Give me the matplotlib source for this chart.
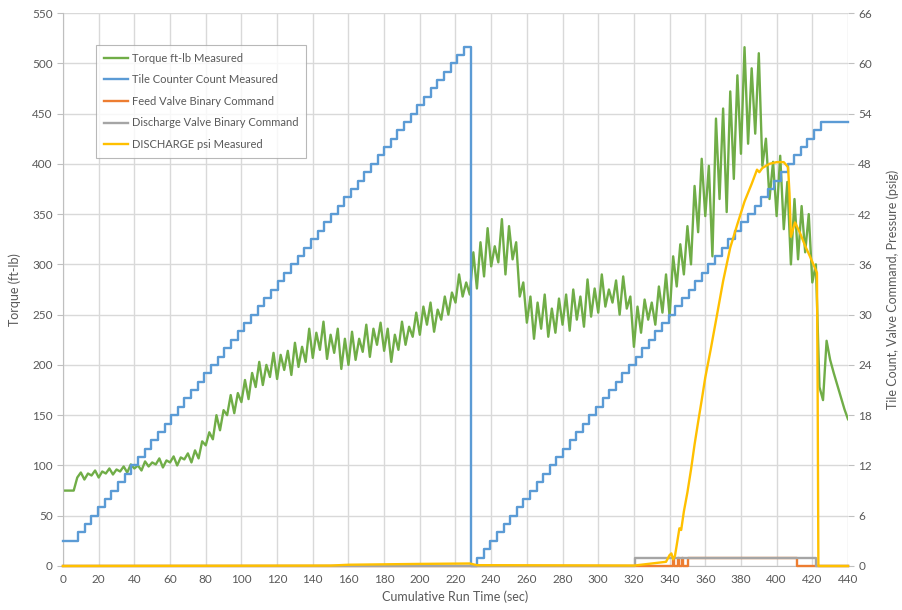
import numpy as np
import matplotlib
matplotlib.use("Agg")
import matplotlib.pyplot as plt

plt.rcParams['font.family'] = ['Lato', 'DejaVu Sans']

# ---------------- data ----------------
torque_time = np.arange(0, 442, 2)
torque_ftlb = [
    75, 75, 75, 75, 88, 93, 86, 92, 90, 95,          # 0-18
    88, 94, 92, 97, 91, 96, 94, 99, 93, 101,         # 20-38
    97, 100, 95, 104, 99, 103, 101, 107, 98, 105,    # 40-58
    103, 109, 100, 108, 106, 112, 103, 115, 107, 124,  # 60-78
    120, 133, 126, 150, 135, 155, 150, 170, 152, 172,  # 80-98
    163, 185, 166, 192, 178, 203, 180, 200, 188, 212,  # 100-118
    186, 210, 195, 214, 190, 222, 198, 218, 203, 236,  # 120-138
    207, 232, 215, 243, 206, 230, 212, 236, 196, 226,  # 140-158
    200, 233, 205, 226, 213, 240, 208, 236, 220, 242,  # 160-178
    214, 236, 203, 230, 215, 243, 220, 238, 228, 252,  # 180-198
    230, 258, 240, 262, 233, 255, 245, 268, 250, 272,  # 200-218
    262, 290, 268, 282, 270, 312, 276, 322, 288, 336,  # 220-238
    298, 318, 302, 345, 290, 338, 305, 322, 268, 282,  # 240-258
    242, 268, 226, 262, 236, 270, 228, 256, 232, 266,  # 260-278
    240, 270, 234, 275, 245, 268, 238, 285, 248, 276,  # 280-298
    252, 290, 258, 275, 262, 284, 250, 288, 256, 268,  # 300-318
    218, 258, 232, 265, 245, 262, 240, 278, 252, 290,  # 320-338
    248, 308, 278, 320, 290, 338, 300, 378, 332, 405,  # 340-358
    348, 398, 308, 445, 365, 455, 352, 472, 385, 488,  # 360-378
    410, 516, 420, 495, 430, 510, 398, 425, 365, 402,  # 380-398
    348, 408, 335, 382, 300, 365, 305, 358, 312, 350,  # 400-418
    282, 300, 178, 165, 224, 205, 192, 180, 168, 156,  # 420-438
    146,                                               # 440
]

tile_time = [
    0, 8.4, 12.1, 15.9, 19.6, 23.3, 27.1, 30.8, 34.5, 38.2, 42.0,
    45.7, 49.4, 53.2, 56.9, 60.6, 64.4, 68.1, 71.8, 75.5, 79.3,
    83.0, 86.7, 90.5, 94.2, 97.9, 101.7, 105.4, 109.1, 112.8, 116.6,
    120.3, 124.0, 127.8, 131.5, 135.2, 139.0, 142.7, 146.4, 150.1, 153.9,
    157.6, 161.3, 165.1, 168.8, 172.5, 176.3, 180.0, 183.7, 187.4, 191.2,
    194.9, 198.6, 202.4, 206.1, 209.8, 213.6, 217.3, 221.0, 224.7,
    228.7,
    232.2, 235.9, 239.6, 243.3, 247.0, 250.7, 254.4, 258.1, 261.8, 265.5,
    269.2, 272.9, 276.6, 280.3, 284.0, 287.7, 291.4, 295.1, 298.8, 302.5,
    306.2, 309.9, 313.6, 317.3, 321.0, 324.7, 328.4, 332.1, 335.8, 339.5,
    343.2, 346.9, 350.6, 354.3, 358.0, 361.7, 365.4, 369.1, 372.8, 376.5,
    380.2, 383.9, 387.6, 391.3, 395.0, 398.7, 402.4, 406.1, 409.8, 413.5,
    417.2, 420.9, 424.6,
    440,
]
tile_count = [
    3, 4, 5, 6, 7, 8, 9, 10, 11, 12, 13,
    14, 15, 16, 17, 18, 19, 20, 21, 22, 23,
    24, 25, 26, 27, 28, 29, 30, 31, 32, 33,
    34, 35, 36, 37, 38, 39, 40, 41, 42, 43,
    44, 45, 46, 47, 48, 49, 50, 51, 52, 53,
    54, 55, 56, 57, 58, 59, 60, 61, 62,
    0,
    1, 2, 3, 4, 5, 6, 7, 8, 9, 10,
    11, 12, 13, 14, 15, 16, 17, 18, 19, 20,
    21, 22, 23, 24, 25, 26, 27, 28, 29, 30,
    31, 32, 33, 34, 35, 36, 37, 38, 39, 40,
    41, 42, 43, 44, 45, 46, 47, 48, 49, 50,
    51, 52, 53,
    53,
]

feed_time = [0, 341.9, 342.6, 344.8, 345.4, 346.7, 347.4, 350.1, 411.3, 440]
feed_cmd = [0, 1, 0, 1, 0, 1, 0, 1, 0, 0]

disch_valve_time = [0, 320.8, 422.1, 440]
disch_valve_cmd = [0, 1, 0, 0]

psi_time = [0, 150, 160, 200, 228, 232, 320, 330, 338, 340, 341, 342, 343, 344,
            345.5, 346.5, 348, 350, 352, 354, 356, 358, 360, 363, 366, 370, 374,
            378, 382, 386, 389, 390.3, 392, 396, 400, 404, 406.4, 407.2, 408,
            410.3, 413, 416, 419, 422.6, 423.0, 423.4, 440]
psi_value = [0, 0.05, 0.15, 0.25, 0.3, 0.1, 0.05, 0.3, 0.5, 1.3, 1.5, 0.8, 1.2, 2.5,
             4.5, 4.3, 6.5, 8.8, 11.5, 14.5, 17.2, 19.8, 22.5, 25.8, 29.3, 34.0, 38.0,
             40.8, 43.5, 45.6, 47.3, 47.0, 47.5, 48.0, 48.2, 48.2, 47.6, 44.5, 39.3,
             41.0, 39.8, 38.2, 36.8, 35.0, 20.0, 0.0, 0.0]

# ---------------- style ----------------
C_GREEN = '#70AD47'
C_BLUE = '#5B9BD5'
C_ORANGE = '#ED7D31'
C_GRAY = '#A5A5A5'
C_YELLOW = '#FFC000'
C_TEXT = '#595959'
C_GRID = '#D9D9D9'
LW = 1.7

fig = plt.figure(figsize=(9.03, 6.10), dpi=100)
ax = fig.add_axes([63 / 903, 1 - 566 / 610, 785 / 903, 553 / 610])
ax2 = ax.twinx()

l1, = ax.plot(torque_time, torque_ftlb, color=C_GREEN, lw=LW, label='Torque ft-lb Measured')
l2, = ax2.plot(tile_time, tile_count, color=C_BLUE, lw=LW, drawstyle='steps-post',
               label='Tile Counter Count Measured', clip_on=False)
l3, = ax2.plot(feed_time, feed_cmd, color=C_ORANGE, lw=LW, drawstyle='steps-post',
               label='Feed Valve Binary Command', clip_on=False)
l4, = ax2.plot(disch_valve_time, disch_valve_cmd, color=C_GRAY, lw=LW, drawstyle='steps-post',
               label='Discharge Valve Binary Command', clip_on=False)
l5, = ax2.plot(psi_time, psi_value, color=C_YELLOW, lw=LW, label='DISCHARGE psi Measured',
               clip_on=False)

ax.set_xlim(0, 440)
ax.set_ylim(0, 550)
ax2.set_ylim(0, 66)
ax.set_xticks(np.arange(0, 441, 20))
ax.set_yticks(np.arange(0, 551, 50))
ax2.set_yticks(np.arange(0, 67, 6))

ax.grid(True, color=C_GRID, lw=1.0)
ax.set_axisbelow(True)

ax.spines['top'].set_visible(False)
ax2.spines['top'].set_visible(False)
ax.spines['right'].set_visible(False)
ax2.spines['right'].set_visible(False)
ax2.spines['left'].set_visible(False)
ax2.spines['bottom'].set_visible(False)
ax.spines['left'].set_color('#BFBFBF')
ax.spines['bottom'].set_color('#BFBFBF')

ax.tick_params(axis='both', colors='#BFBFBF', labelcolor=C_TEXT, labelsize=8.5, length=4)
ax.tick_params(axis='x', length=0, pad=6)
ax2.tick_params(axis='y', colors='#BFBFBF', labelcolor=C_TEXT, labelsize=8.5, length=4)

ax.set_xlabel('Cumulative Run Time (sec)', color=C_TEXT, fontsize=9, labelpad=4)
ax.set_ylabel('Torque (ft-lb)', color=C_TEXT, fontsize=9, labelpad=8)
ax2.set_ylabel('Tile Count, Valve Command, Pressure (psig)', color=C_TEXT, fontsize=9, labelpad=10)

leg = ax2.legend(handles=[l1, l2, l3, l4, l5], loc='upper left',
                 bbox_to_anchor=(96 / 903, 1 - 45 / 610), bbox_transform=fig.transFigure,
                 fontsize=8, frameon=True, fancybox=False, borderaxespad=0,
                 handlelength=2.2, handletextpad=0.3, labelspacing=0.95,
                 borderpad=0.7, labelcolor=C_TEXT)
leg.get_frame().set_edgecolor('#A6A6A6')
leg.get_frame().set_linewidth(0.8)

fig.savefig('out.png', dpi=100)
